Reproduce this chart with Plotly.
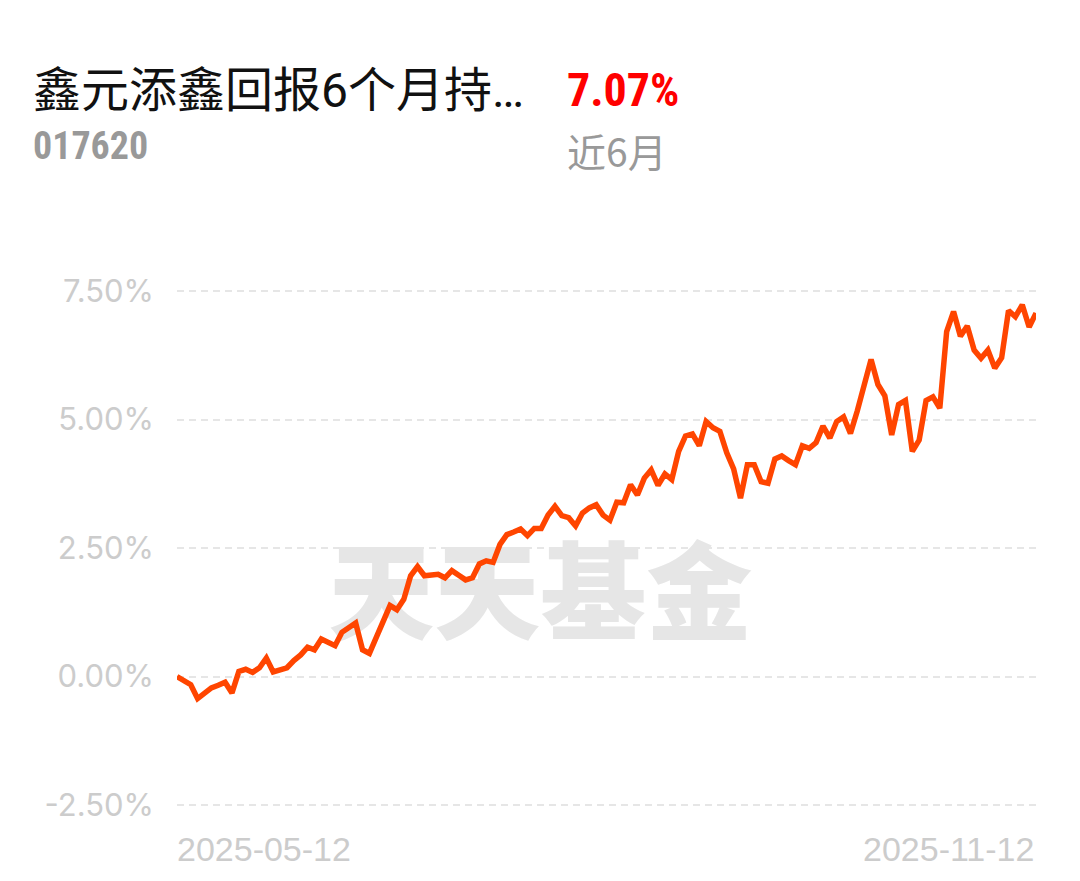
import plotly.graph_objects as go

# ---- data ----
fund_name = "鑫元添鑫回报6个月持…"
fund_code = "017620"
period_return = "7.07%"
period_label = "近6月"
x_labels = ["2025-05-12", "2025-11-12"]
y_ticks = [-2.5, 0.0, 2.5, 5.0, 7.5]
y_tick_text = ["-2.50%", "0.00%", "2.50%", "5.00%", "7.50%"]
watermark = "天天基金"

returns = [
    0.00, -0.08, -0.16, -0.43, -0.32, -0.22, -0.17, -0.11, -0.32, 0.10,
    0.14, 0.08, 0.17, 0.36, 0.09, 0.12, 0.17, 0.31, 0.42, 0.57,
    0.52, 0.73, 0.66, 0.60, 0.86, 0.95, 1.04, 0.52, 0.45, 0.76,
    1.07, 1.38, 1.30, 1.50, 1.96, 2.14, 1.96, 1.98, 1.99, 1.92,
    2.06, 1.97, 1.88, 1.92, 2.19, 2.25, 2.22, 2.57, 2.76, 2.81,
    2.87, 2.74, 2.88, 2.88, 3.14, 3.31, 3.13, 3.09, 2.93, 3.18,
    3.28, 3.34, 3.14, 3.04, 3.39, 3.38, 3.73, 3.53, 3.86, 4.02,
    3.72, 3.94, 3.83, 4.38, 4.68, 4.72, 4.49, 4.96, 4.84, 4.77,
    4.35, 4.04, 3.47, 4.12, 4.12, 3.79, 3.76, 4.23, 4.29, 4.20,
    4.12, 4.49, 4.44, 4.55, 4.87, 4.64, 4.96, 5.05, 4.73, 5.17,
    5.68, 6.17, 5.68, 5.46, 4.70, 5.29, 5.37, 4.38, 4.60, 5.37,
    5.44, 5.22, 6.71, 7.10, 6.62, 6.82, 6.35, 6.19, 6.35, 6.00,
    6.20, 7.12, 7.00, 7.23, 6.80, 7.07,
]
day_index = list(range(len(returns)))

# ---- layout geometry (pixels) ----
W, H = 1080, 881
L, R = 177, 44
T, B = 288, 73
pw, ph = W - L - R, H - T - B
grid_top_px, grid_bottom_px = 291, 805  # pixel rows of the 7.50% and -2.50% grid lines
unit = (grid_bottom_px - grid_top_px) / (y_ticks[-1] - y_ticks[0])
y_lo = y_ticks[0] - (H - B - grid_bottom_px) / unit
y_hi = y_ticks[-1] + (grid_top_px - T) / unit


def px(xp):
    return (xp - L) / pw


def py(yp):
    return (H - B - yp) / ph


x_min, x_max = day_index[0], day_index[-1]

fig = go.Figure()

# watermark behind the line
fig.add_trace(go.Scatter(
    x=[x_min + (x_max - x_min) * 0.423],
    y=[y_ticks[0] + (y_ticks[-1] - y_ticks[0]) * 0.39],
    mode="text",
    text=[watermark],
    textfont=dict(family="Noto Sans CJK SC", size=106, color="#e6e6e6", weight=900),
    hoverinfo="skip",
    showlegend=False,
))

fig.add_trace(go.Scatter(
    x=day_index,
    y=returns,
    mode="lines",
    line=dict(color="#ff4500", width=5.5, shape="linear"),
    showlegend=False,
    hoverinfo="skip",
))

grey = "#cccccc"
fig.update_layout(
    width=W, height=H,
    margin=dict(l=L, r=R, t=T, b=B),
    paper_bgcolor="white",
    plot_bgcolor="white",
    xaxis=dict(
        range=[x_min, x_max],
        showgrid=False, zeroline=False, showline=False,
        showticklabels=False, ticks="",
        fixedrange=True,
    ),
    yaxis=dict(
        range=[y_lo, y_hi],
        tickvals=y_ticks,
        ticktext=y_tick_text,
        showgrid=True,
        gridcolor="#e6e6e6",
        gridwidth=2,
        griddash="7px,5px",
        zeroline=False, showline=False,
        ticks="",
        ticklabelstandoff=22,
        tickfont=dict(family="Inter, Liberation Sans, Arial, sans-serif", size=31, color=grey),
        fixedrange=True,
    ),
    showlegend=False,
)

annotations = [
    dict(text=fund_name, x=px(31), y=py(90), xanchor="left", yanchor="middle",
         font=dict(family="Roboto, Noto Sans CJK SC", size=48, color="#111111")),
    dict(text="<b>" + period_return + "</b>", x=px(565), y=py(90), xanchor="left", yanchor="middle",
         font=dict(family="Liberation Sans Narrow, Roboto Condensed, Roboto, sans-serif", size=46, color="#ff0000")),
    dict(text="<b>" + fund_code + "</b>", x=px(31), y=py(146), xanchor="left", yanchor="middle",
         font=dict(family="Liberation Sans Narrow, Roboto Condensed, Roboto, sans-serif", size=38, color="#999999")),
    dict(text=period_label, x=px(565), y=py(150), xanchor="left", yanchor="middle",
         font=dict(family="Noto Sans CJK SC", size=39, color="#999999")),
    dict(text=x_labels[0], x=x_min, xref="x", y=py(849), xanchor="left", yanchor="middle",
         xshift=-2,
         font=dict(family="Liberation Sans, Arial, sans-serif", size=34, color=grey)),
    dict(text=x_labels[1], x=x_max, xref="x", y=py(849), xanchor="right", yanchor="middle",
         font=dict(family="Liberation Sans, Arial, sans-serif", size=34, color=grey)),
]
for a in annotations:
    a.setdefault("xref", "paper")
    a["yref"] = "paper"
    a["showarrow"] = False
fig.update_layout(annotations=annotations)

fig.write_html("out.html", config={"displayModeBar": False},
               post_script="document.body.style.margin='0px';")
